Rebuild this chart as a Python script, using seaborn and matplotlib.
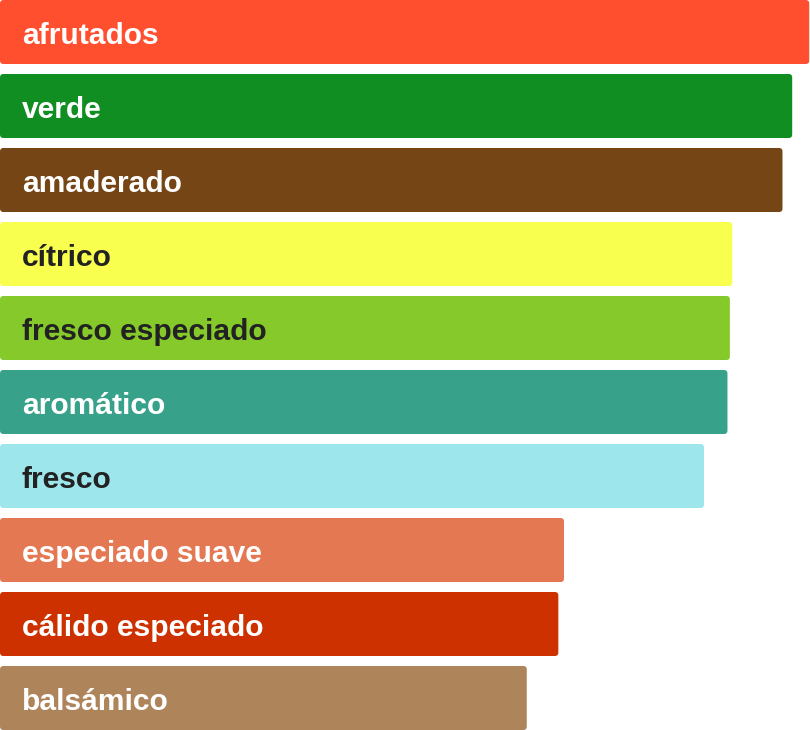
import matplotlib
matplotlib.use("Agg")
import matplotlib.pyplot as plt
from matplotlib.patches import FancyBboxPatch
import seaborn as sns
import pandas as pd

# Data
accords = ['afrutados', 'verde', 'amaderado', 'cítrico', 'fresco especiado',
           'aromático', 'fresco', 'especiado suave', 'cálido especiado', 'balsámico']
values = [100, 97.9, 96.7, 90.5, 90.2, 89.9, 87.0, 69.7, 69.0, 65.1]
colors = ['#FF4F2E', '#118E21', '#764515', '#F8FF4F', '#85CA2A',
          '#37A18A', '#9DE6EC', '#E37852', '#CD3100', '#AE855B']
text_colors = ['white', 'white', 'white', '#222222', '#222222',
               'white', '#222222', 'white', 'white', 'white']

df = pd.DataFrame({'accord': accords, 'value': values})

sns.set_theme(style="white")
plt.rcParams['font.family'] = ['Liberation Sans', 'DejaVu Sans']

fig = plt.figure(figsize=(8.10, 7.30), dpi=100)
ax = fig.add_axes([0, 0, 1, 1])

bar_w = 64 / 74
sns.barplot(data=df, x='value', y='accord', hue='accord', palette=colors,
            legend=False, width=bar_w, ax=ax, saturation=1)

ax.set_xlim(0, 100.1)
ax.set_ylim(len(accords) - 1 + bar_w / 2, -bar_w / 2)

# rounded corners: swap rectangles for fancy boxes
xpx = 810 / 100.1
ypx = 74
for patch in list(ax.patches):
    x, y = patch.get_x(), patch.get_y()
    w, h = patch.get_width(), patch.get_height()
    fc = patch.get_facecolor()
    patch.remove()
    r = 3.5 / xpx
    box = FancyBboxPatch((x, y), w, h,
                         boxstyle=f"round,pad=0,rounding_size={r}",
                         mutation_aspect=xpx / ypx,
                         facecolor=fc, edgecolor='none')
    ax.add_patch(box)

for i, (name, tc) in enumerate(zip(accords, text_colors)):
    ax.text(22 / xpx, i + 0.06, name, color=tc, fontsize=21.6,
            fontweight='bold', va='center', ha='left')

ax.set_axis_off()
fig.savefig("out.png", dpi=100)
